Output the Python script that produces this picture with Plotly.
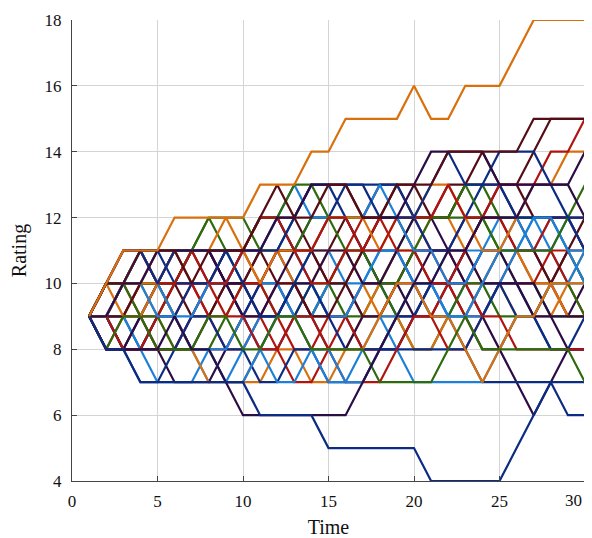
import plotly.graph_objects as go

time = list(range(1, 31))

x_ticks = [0, 5, 10, 15, 20, 25, 30]
x_tick_labels = ["0", "5", "10", "15", "20", "25", ""]
last_x_label = "30"
y_ticks = [4, 6, 8, 10, 12, 14, 16, 18]

p01 = [9,10,11,11,11,12,12,12,12,12,13,13,13,14,14,15,15,15,15,16,15,15,16,16,16,17,18,18,18,18]
p02 = [9,8,8,7,7,7,7,7,7,7,6,6,6,6,5,5,5,5,5,5,4,4,4,4,4,5,6,7,6,6]
p03 = [9,8,8,8,8,9,8,8,7,6,6,6,6,6,6,6,7,8,9,10,10,11,11,12,12,12,13,13,13,12]
p04 = [9,10,10,11,11,11,10,11,11,11,12,13,12,12,13,13,12,12,13,13,13,14,14,14,14,14,15,15,15,15]
p05 = [9,9,10,10,11,11,11,11,11,11,11,12,12,13,13,13,12,12,12,13,14,14,14,14,13,13,13,13,13,14]
p06 = [9,10,11,11,10,11,11,11,11,11,11,11,12,13,13,13,13,12,12,12,13,14,13,13,14,14,14,13,12,12]
p07 = [9,10,11,11,10,10,11,10,10,11,12,12,11,11,12,12,11,11,12,12,12,13,12,12,13,13,13,14,14,15]
p08 = [9,9,10,10,10,11,11,11,12,11,10,11,11,11,12,12,12,11,12,12,13,13,12,11,11,12,13,13,14,14]
p09 = [9,10,10,10,10,10,11,12,11,11,12,12,13,13,12,12,12,12,12,12,12,12,13,12,11,11,11,11,12,13]
p10 = [9,8,9,9,8,8,8,9,9,8,8,9,9,8,8,8,8,7,7,7,7,8,9,8,8,8,8,8,8,7]
p11 = [9,10,10,11,10,9,9,10,10,11,11,12,13,12,12,12,12,13,12,11,11,10,10,11,11,11,12,12,11,11]
p12 = [9,10,10,11,11,10,10,10,11,10,9,9,10,11,12,13,13,13,13,12,11,11,12,13,13,12,12,12,12,11]
p13 = [9,10,11,11,10,10,10,9,9,10,10,11,11,10,10,11,11,12,11,11,10,10,11,12,12,11,11,12,12,11]
p14 = [9,9,10,10,9,9,8,8,7,7,8,9,9,8,8,7,7,8,9,10,10,9,9,10,11,11,12,12,11,10]
p15 = [9,10,9,9,10,9,8,7,7,7,8,9,9,8,8,8,8,9,10,10,9,9,8,7,8,9,9,10,10,10]
p16 = [9,9,8,8,9,10,10,10,9,9,8,8,9,9,8,7,7,7,8,9,9,10,10,9,9,8,8,8,8,8]
p17 = [9,8,8,9,10,10,11,11,10,10,9,9,10,10,11,11,10,10,11,12,12,11,11,10,10,10,9,9,8,8]
p18 = [9,9,9,10,10,11,11,10,10,11,11,10,10,9,9,10,11,12,13,13,12,12,13,14,13,13,12,12,12,12]
p19 = [9,9,8,8,9,9,10,10,11,11,12,12,11,10,9,8,8,8,8,8,8,8,8,9,10,10,9,8,8,9]
p20 = [9,9,10,11,10,9,8,8,7,7,8,9,10,10,9,9,10,11,11,10,10,9,9,9,10,11,11,12,12,11]
p21 = [9,9,9,8,7,7,7,8,8,9,8,7,7,8,7,7,8,9,8,7,7,7,7,7,8,9,9,10,10,11]
p22 = [9,9,8,7,7,8,9,9,8,8,7,7,8,8,7,7,7,8,8,9,10,9,8,7,7,7,7,7,7,7]
p23 = [9,10,10,11,11,11,11,12,12,12,11,11,11,12,12,11,11,10,10,11,12,12,13,13,12,12,12,12,11,10]
p24 = [9,9,10,10,10,11,11,11,10,9,9,10,11,12,12,12,11,10,10,9,9,10,10,11,11,10,10,9,9,9]
p25 = [9,8,8,8,8,8,8,9,10,10,10,11,11,11,10,10,9,9,10,11,11,11,12,12,12,11,11,10,11,11]
p26 = [9,9,9,9,8,8,9,10,11,11,10,9,8,8,9,9,8,8,8,9,9,8,8,9,10,10,10,11,11,10]
p27 = [9,9,10,10,10,10,11,11,11,10,10,10,9,9,10,10,9,9,9,10,10,11,11,11,12,12,11,11,12,11]
p28 = [9,9,9,10,11,11,10,10,11,11,11,11,10,10,11,11,10,9,9,8,8,9,9,10,11,11,10,10,9,9]
p29 = [9,9,8,8,9,8,8,8,9,10,10,9,9,9,10,11,11,10,9,8,8,9,10,10,9,9,9,10,10,9]
p30 = [9,10,10,10,11,11,10,10,10,9,10,11,12,13,13,12,11,11,11,10,9,9,9,10,10,9,9,8,8,8]
p31 = [9,9,10,11,10,10,11,11,10,10,11,12,12,11,11,12,12,13,13,12,12,13,13,13,13,13,14,15,15,15]
p32 = [9,8,9,10,10,9,8,8,8,9,9,8,7,7,8,9,10,10,10,11,11,10,9,9,10,11,11,11,10,9]
p33 = [9,8,8,9,8,7,7,7,8,9,10,10,9,9,8,8,9,9,10,10,11,11,10,9,8,7,6,7,8,8]
p34 = [9,9,9,10,10,9,8,7,7,8,9,9,10,11,11,10,10,11,11,10,9,9,10,11,11,12,12,11,10,10]
p35 = [9,9,9,8,8,8,9,10,10,9,8,8,9,10,9,9,10,10,9,9,10,10,11,12,12,12,12,12,12,11]
p36 = [9,10,10,10,9,8,8,8,7,7,7,8,8,7,7,8,9,10,11,11,12,12,11,10,10,9,9,9,10,11]
p37 = [9,10,10,9,9,10,11,11,11,10,9,9,9,10,10,9,9,10,11,12,12,12,12,12,11,10,10,9,9,9]
p38 = [9,9,8,8,9,10,9,9,10,11,12,12,11,11,10,10,11,12,12,11,10,10,9,8,8,9,9,10,11,12]
p39 = [9,9,10,9,9,9,10,9,8,8,9,10,10,9,10,11,12,12,12,12,11,11,10,10,11,11,10,10,9,9]
p40 = [9,9,9,9,10,11,11,11,10,10,11,11,10,9,9,9,8,8,9,9,10,10,11,12,13,12,11,10,9,10]

paths = [p01,p02,p03,p04,p05,p06,p07,p08,p09,p10,p11,p12,p13,p14,p15,p16,p17,p18,p19,p20,
         p21,p22,p23,p24,p25,p26,p27,p28,p29,p30,p31,p32,p33,p34,p35,p36,p37,p38,p39,p40]

palette = {
    "orange": "#d9700e",
    "navy": "#0c2c84",
    "purple": "#2c0c44",
    "maroon": "#560c14",
    "red": "#b0140e",
    "green": "#2e6a0e",
    "lightblue": "#1c80d8",
}
path_colors = ["orange","navy","purple","maroon","purple","navy","red","orange","green","green",
               "lightblue","navy","red","lightblue","orange","red","purple","maroon","navy","lightblue",
               "lightblue","navy","green","purple","maroon","red","lightblue","orange","green","navy",
               "maroon","red","purple","lightblue","navy","orange","green","maroon","red","purple"]

fig = go.Figure()
# draw in reverse so the first paths sit on top
for vals, cname in reversed(list(zip(paths, path_colors))):
    fig.add_trace(go.Scatter(x=time, y=vals, mode="lines",
                             line=dict(color=palette[cname], width=2.2),
                             showlegend=False, hoverinfo="skip"))

# the page body adds an 8px offset, so the figure is sized to fit the window
font_family = "Liberation Serif, DejaVu Serif, serif"
fig.update_layout(
    width=584, height=530,
    margin=dict(l=64, r=7, t=12, b=57, autoexpand=False),
    paper_bgcolor="white", plot_bgcolor="white",
    font=dict(family=font_family, size=17, color="#111111"),
    showlegend=False,
)
fig.update_xaxes(range=[0, 30], tickvals=x_ticks, ticktext=x_tick_labels,
                 showgrid=True, gridcolor="#d4d4d4", gridwidth=1,
                 showline=True, linecolor="#444444", linewidth=1.2,
                 ticks="inside", ticklen=5, tickcolor="#444444",
                 zeroline=False, automargin=False, ticklabeloverflow="allow",
                 ticklabelstandoff=4,
                 title=dict(text="Time", standoff=15),
                 tickfont=dict(size=17))
fig.update_yaxes(range=[4, 18], tickvals=y_ticks, ticktext=[str(v) for v in y_ticks],
                 showgrid=True, gridcolor="#d4d4d4", gridwidth=1,
                 showline=True, linecolor="#444444", linewidth=1.2,
                 ticks="inside", ticklen=5, tickcolor="#444444",
                 zeroline=False, automargin=False, ticklabeloverflow="allow",
                 ticklabelstandoff=6,
                 title=dict(text="Rating", standoff=16),
                 tickfont=dict(size=17))

# last x tick label, nudged left so it stays inside the window
fig.add_annotation(x=x_ticks[-1], y=0, xref="x", yref="paper",
                   text=last_x_label, showarrow=False,
                   xanchor="right", yanchor="top", xshift=-1, yshift=-8,
                   font=dict(family=font_family, size=17, color="#111111"))

fig.write_html("out.html")
